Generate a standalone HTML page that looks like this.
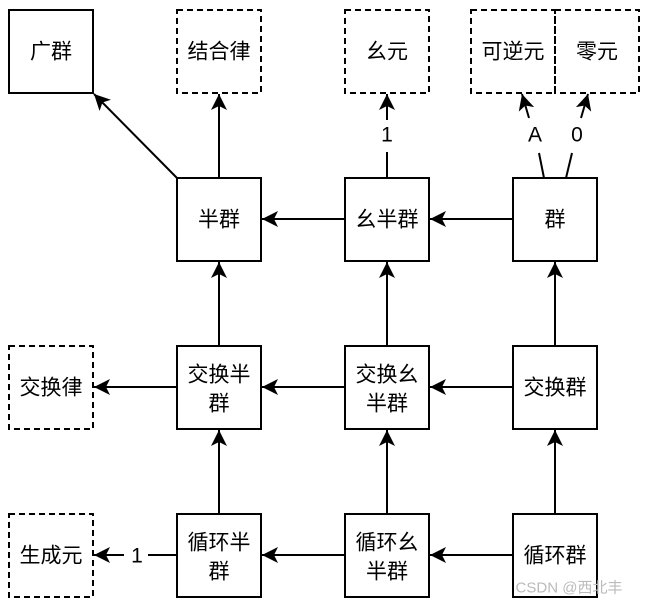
<!DOCTYPE html>
<html><head><meta charset="utf-8"><style>
html,body{margin:0;padding:0;background:#fff;}
svg{display:block;}
text{font-family:"Liberation Sans","Noto Sans CJK SC",sans-serif;font-size:21px;fill:#000;text-anchor:middle;dominant-baseline:central;}
</style></head><body>
<svg width="648" height="608" viewBox="0 0 648 608" xmlns="http://www.w3.org/2000/svg">
<defs>
<marker id="a" markerUnits="userSpaceOnUse" markerWidth="20" markerHeight="20" refX="16" refY="8" orient="auto">
<path d="M16,8 L0,0 L4,8 L0,16 Z" fill="#000"/>
</marker>
</defs>
<g fill="#fff" stroke="#000" stroke-width="2">
<rect x="9" y="10" width="84" height="83"/>
<rect x="177" y="178" width="84" height="83"/>
<rect x="345" y="178" width="84" height="83"/>
<rect x="513" y="178" width="84" height="83"/>
<rect x="177" y="346" width="84" height="83"/>
<rect x="345" y="346" width="84" height="83"/>
<rect x="513" y="346" width="84" height="83"/>
<rect x="177" y="514" width="84" height="83"/>
<rect x="345" y="514" width="84" height="83"/>
<rect x="513" y="514" width="84" height="83"/>
</g>
<g fill="none" stroke="#000" stroke-width="2" stroke-dasharray="6,4">
<rect x="177" y="10" width="84" height="83"/>
<rect x="345" y="10" width="84" height="83"/>
<rect x="471" y="10" width="84" height="83"/>
<rect x="555" y="10" width="84" height="83"/>
<rect x="9" y="346" width="84" height="83"/>
<rect x="9" y="514" width="84" height="83"/>
</g>
<g stroke="#000" stroke-width="2" fill="none" marker-end="url(#a)">
<line x1="177" y1="178" x2="94" y2="94"/>
<line x1="219" y1="178" x2="219" y2="94"/>
<line x1="387" y1="120" x2="387" y2="94"/>
<line x1="529" y1="118" x2="522" y2="94"/>
<line x1="581" y1="118" x2="588" y2="94"/>
<line x1="513" y1="219" x2="430" y2="219"/>
<line x1="345" y1="219" x2="262" y2="219"/>
<line x1="219" y1="346" x2="219" y2="262"/>
<line x1="387" y1="346" x2="387" y2="262"/>
<line x1="555" y1="346" x2="555" y2="262"/>
<line x1="513" y1="387" x2="430" y2="387"/>
<line x1="345" y1="387" x2="262" y2="387"/>
<line x1="177" y1="387" x2="94" y2="387"/>
<line x1="219" y1="514" x2="219" y2="430"/>
<line x1="387" y1="514" x2="387" y2="430"/>
<line x1="555" y1="514" x2="555" y2="430"/>
<line x1="513" y1="555" x2="430" y2="555"/>
<line x1="345" y1="555" x2="262" y2="555"/>
<line x1="124" y1="555" x2="94" y2="555"/>
</g>
<g stroke="#000" stroke-width="2">
<line x1="387" y1="178" x2="387" y2="152"/>
<line x1="544" y1="178" x2="539" y2="153"/>
<line x1="566" y1="178" x2="572" y2="153"/>
<line x1="177" y1="555" x2="148" y2="555"/>
</g>
<text x="51" y="52">广群</text>
<text x="219" y="52">结合律</text>
<text x="387" y="52">幺元</text>
<text x="513" y="52">可逆元</text>
<text x="597" y="52">零元</text>
<text x="387" y="135">1</text>
<text x="535" y="135">A</text>
<text x="577" y="135">0</text>
<text x="219" y="220">半群</text>
<text x="387" y="220">幺半群</text>
<text x="555" y="220">群</text>
<text x="51" y="388">交换律</text>
<text x="219" y="375">交换半</text>
<text x="219" y="404">群</text>
<text x="387" y="375">交换幺</text>
<text x="387" y="404">半群</text>
<text x="555" y="388">交换群</text>
<text x="51" y="556">生成元</text>
<text x="137" y="556">1</text>
<text x="219" y="543">循环半</text>
<text x="219" y="572">群</text>
<text x="387" y="543">循环幺</text>
<text x="387" y="572">半群</text>
<text x="555" y="556">循环群</text>
<text x="569" y="588" style="font-size:15px;fill:#bbb">CSDN @西北丰</text>
</svg>
</body></html>
